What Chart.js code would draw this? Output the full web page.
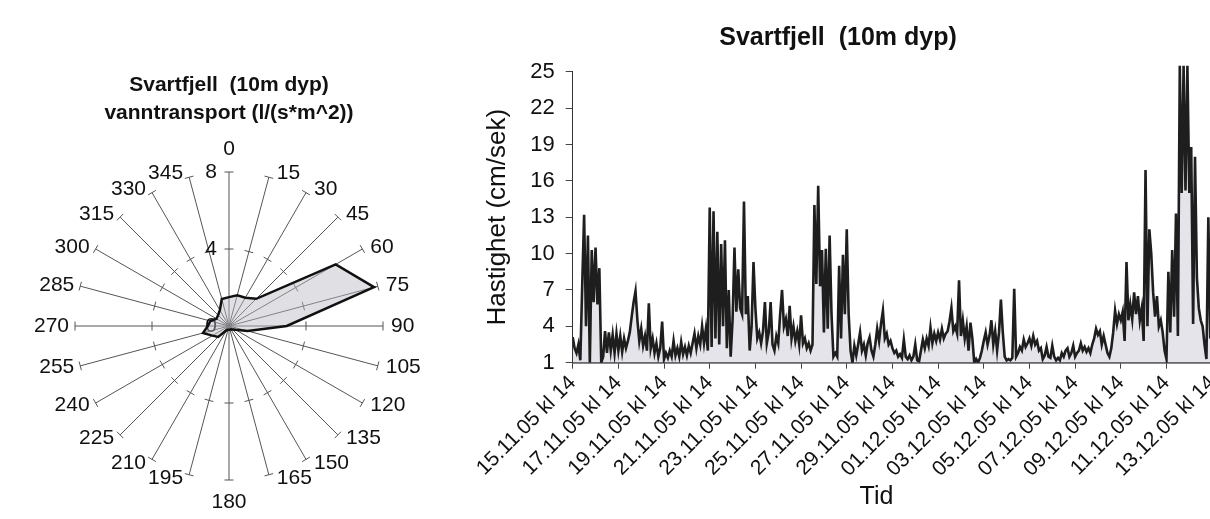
<!DOCTYPE html>
<html>
<head>
<meta charset="utf-8">
<script src="https://cdn.jsdelivr.net/npm/chart.js@4/dist/chart.umd.min.js"></script>
<style>
html,body{margin:0;padding:0;background:#fff;overflow:hidden;width:1210px;height:519px;}
#radarWrap{position:absolute;left:0;top:0;width:458px;height:519px;}
#lineWrap{position:absolute;left:461px;top:0;width:754px;height:519px;}
</style>
</head>
<body>
<div id="radarWrap"><canvas id="radar"></canvas></div>
<div id="lineWrap"><canvas id="line"></canvas></div>
<script>
// ---- Radar (vanntransport) ----
const radarTitle = ['Svartfjell  (10m dyp)', 'vanntransport (l/(s*m^2))'];
const directionLabels = ['0','15','30','45','60','75','90','105','120','135','150','165',
                         '180','195','210','225','240','255','270','285','300','315','330','345'];
const transportValues = [1.5,1.65,1.7,2.0,6.4,7.8,3.0,1.0,0.4,0.25,0.2,0.2,
                         0.2,0.2,0.25,0.8,1.0,1.4,1.1,1.0,0.75,0.8,0.95,1.45];
const radarTickValues = [0,4,8];

// ---- Time series (hastighet) ----
const lineTitle = 'Svartfjell  (10m dyp)';
const dateLabels = ['15.11.05 kl 14','17.11.05 kl 14','19.11.05 kl 14','21.11.05 kl 14','23.11.05 kl 14',
                    '25.11.05 kl 14','27.11.05 kl 14','29.11.05 kl 14','01.12.05 kl 14','03.12.05 kl 14',
                    '05.12.05 kl 14','07.12.05 kl 14','09.12.05 kl 14','11.12.05 kl 14','13.12.05 kl 14'];
const hoursPerStep = 2;
const hoursPerLabel = 48;
const speedValues = [
 3.1,2.2,1.8,2.5,1.2,7.4,13.2,4.0,11.5,1.0,10.3,6.0,10.5,5.8,8.8,1.0,1.5,3.6,1.8,3.5,2.0,3.3,1.8,3.4,
 2.0,3.2,1.9,3.0,2.2,2.8,3.5,4.8,6.0,6.9,4.5,2.8,3.8,2.4,3.2,2.0,5.9,2.2,3.0,1.8,2.6,1.5,2.2,4.4,
 1.3,1.8,1.4,2.0,1.5,2.8,1.6,2.2,1.5,2.7,1.7,2.3,1.6,2.4,1.8,2.6,3.4,2.2,3.2,2.5,4.0,2.6,3.8,2.0,
 13.8,2.3,13.5,3.0,11.8,2.5,10.8,4.0,11.1,2.2,7.0,1.5,4.5,10.5,5.2,8.7,5.5,5.0,14.3,5.0,6.5,2.0,4.0,9.3,
 5.5,3.0,3.5,2.6,3.6,6.0,2.6,3.5,6.0,2.5,2.0,3.2,2.6,5.0,7.0,4.0,4.6,3.2,5.7,3.0,4.0,2.8,3.6,2.5,
 4.9,2.6,3.0,2.2,2.6,2.0,2.5,14.0,7.5,15.6,7.3,10.3,3.5,10.4,3.8,11.5,5.0,1.5,1.8,1.5,9.0,3.0,9.9,5.0,
 12.0,5.0,2.0,1.0,2.4,1.6,2.5,3.5,2.0,2.5,1.6,2.6,3.1,2.0,1.5,2.5,3.8,2.8,4.2,5.3,3.0,3.4,2.5,2.8,
 2.2,1.8,2.0,1.5,1.7,1.4,2.9,1.5,1.3,1.6,1.2,1.5,2.5,1.2,1.1,2.0,2.9,2.2,3.0,2.4,3.9,2.6,3.4,2.8,
 3.5,2.9,3.8,3.0,3.4,3.6,4.4,5.5,3.6,4.0,3.4,7.8,3.2,4.5,3.0,4.0,2.0,4.3,3.0,1.0,1.3,1.0,1.4,2.0,
 2.8,3.5,2.5,3.2,4.5,2.5,3.6,2.0,3.5,6.2,3.5,1.5,1.2,1.3,1.2,1.4,7.1,1.5,1.8,2.3,2.0,2.9,2.3,2.6,
 3.0,2.4,3.2,2.5,2.8,2.0,2.2,1.3,1.6,2.3,1.5,1.4,2.4,1.5,1.2,1.4,1.2,1.8,1.5,2.0,2.2,1.5,1.8,2.4,
 1.5,1.8,2.0,2.6,2.0,2.3,1.9,2.2,1.8,2.5,3.0,3.8,3.3,3.6,2.5,3.2,2.5,1.8,1.5,2.2,3.5,5.3,4.2,5.0,
 4.5,5.2,2.8,9.3,4.5,5.8,4.6,6.8,5.0,6.5,4.5,5.5,2.8,16.9,4.0,12.0,10.0,6.8,4.8,6.5,4.0,4.5,3.5,2.0,
 1.3,8.5,3.5,10.3,4.8,13.3,3.2,25.5,15.0,25.5,15.2,25.5,15.0,18.8,4.2,18.0,8.0,5.5,4.5,4.0,2.5,1.3,13.0,3.0,4.0,3.0
];

const FONT = "'Liberation Sans', Arial, Helvetica, sans-serif";
Chart.defaults.font.family = FONT;
Chart.defaults.color = '#111';

const radarDecor = {
  id: 'radarDecor',
  beforeDatasetsDraw(chart) {
    const s = chart.scales.r, ctx = chart.ctx;
    ctx.save();
    ctx.strokeStyle = '#555';
    ctx.lineWidth = 1;
    directionLabels.forEach((lab, i) => {
      radarTickValues.forEach(v => {
        if (v === 0) return;
        const p = s.getPointPosition(i, s.getDistanceFromCenterForValue(v));
        const dx = -Math.sin(p.angle) * 4.5, dy = Math.cos(p.angle) * 4.5;
        ctx.beginPath();
        ctx.moveTo(p.x - dx, p.y - dy);
        ctx.lineTo(p.x + dx, p.y + dy);
        ctx.stroke();
      });
    });
    ctx.fillStyle = '#111';
    ctx.font = '21px ' + FONT;
    ctx.textBaseline = 'middle';
    ctx.textAlign = 'right';
    radarTickValues.forEach(v => {
      const d = s.getDistanceFromCenterForValue(v);
      ctx.fillText(String(v), s.xCenter - 12, s.yCenter - d);
    });
    ctx.restore();
  },
  afterDraw(chart) {
    const s = chart.scales.r, ctx = chart.ctx;
    ctx.save();
    ctx.fillStyle = '#111';
    ctx.font = '21px ' + FONT;
    ctx.textBaseline = 'middle';
    const outer = s.getDistanceFromCenterForValue(s.max);
    const n = directionLabels.length;
    directionLabels.forEach((lab, i) => {
      const p = s.getPointPosition(i, outer);
      const deg = i * 360 / n;
      const c = Math.cos(deg * Math.PI / 180);
      let x = p.x, y = p.y;
      if (deg === 0) { ctx.textAlign = 'center'; y -= 23; }
      else if (deg === 180) { ctx.textAlign = 'center'; y += 22; }
      else if (deg < 180) { ctx.textAlign = 'left'; x += 8; y -= 4 * c; }
      else { ctx.textAlign = 'right'; x -= 6; y -= 4 * c; }
      ctx.fillText(lab, x, y);
    });
    ctx.restore();
  }
};

new Chart(document.getElementById('radar'), {
  type: 'radar',
  data: {
    labels: directionLabels,
    datasets: [{
      data: transportValues,
      borderColor: '#111',
      borderWidth: 2.5,
      backgroundColor: 'rgba(185,185,195,0.45)',
      fill: true,
      pointRadius: 0,
      tension: 0
    }]
  },
  options: {
    responsive: true,
    maintainAspectRatio: false,
    animation: false,
    layout: { padding: { left: 75, right: 75, top: 0, bottom: 38 } },
    plugins: {
      legend: { display: false },
      tooltip: { enabled: false },
      title: {
        display: true,
        text: radarTitle,
        color: '#111',
        font: { size: 21, weight: 'bold', lineHeight: 1.33 },
        padding: { top: 71, bottom: 46 }
      }
    },
    scales: {
      r: {
        min: 0,
        max: 8,
        ticks: { display: false, stepSize: 4 },
        grid: { display: false },
        angleLines: { display: true, color: '#555', lineWidth: 1 },
        pointLabels: { display: false }
      }
    }
  },
  plugins: [radarDecor]
});

new Chart(document.getElementById('line'), {
  type: 'line',
  data: {
    datasets: [{
      data: speedValues.map((v, i) => ({ x: i * hoursPerStep, y: v })),
      borderColor: '#1e1e1e',
      borderWidth: 2.6,
      backgroundColor: '#e4e4ea',
      fill: 'start',
      pointRadius: 0,
      tension: 0,
      clip: { left: 0, top: 8, right: 0, bottom: 0 }
    }]
  },
  options: {
    responsive: true,
    maintainAspectRatio: false,
    animation: false,
    layout: { padding: 0 },
    plugins: {
      legend: { display: false },
      tooltip: { enabled: false },
      title: {
        display: true,
        text: lineTitle,
        color: '#111',
        font: { size: 25, weight: 'bold' },
        padding: { top: 23, bottom: 18.8 }
      }
    },
    scales: {
      x: {
        type: 'linear',
        min: 0,
        max: 675,
        afterFit(s) { s.height = 156.3; s.paddingRight = 0; },
        ticks: {
          stepSize: hoursPerLabel,
          includeBounds: false,
          autoSkip: false,
          minRotation: 45,
          maxRotation: 45,
          padding: 2,
          font: { size: 21 },
          color: '#111',
          callback: v => dateLabels[Math.round(v / hoursPerLabel)] ?? ''
        },
        grid: { display: true, drawOnChartArea: false, drawTicks: true, tickLength: 6, color: '#444' },
        border: { display: true, color: '#111', width: 1.5 },
        title: { display: true, text: 'Tid     ', color: '#111', font: { size: 25 }, padding: { top: 0, bottom: 7 } }
      },
      y: {
        min: 1,
        max: 25,
        afterFit(s) { s.width = 111.7; },
        ticks: { stepSize: 3, padding: 11, font: { size: 22 }, color: '#111' },
        grid: { display: true, drawOnChartArea: false, drawTicks: true, tickLength: 7, color: '#444' },
        border: { display: true, color: '#333', width: 1 },
        title: { display: true, text: 'Hastighet (cm/sek)', color: '#111', font: { size: 26 }, padding: { top: 21, bottom: 0 } }
      }
    }
  }
});
</script>
</body>
</html>
